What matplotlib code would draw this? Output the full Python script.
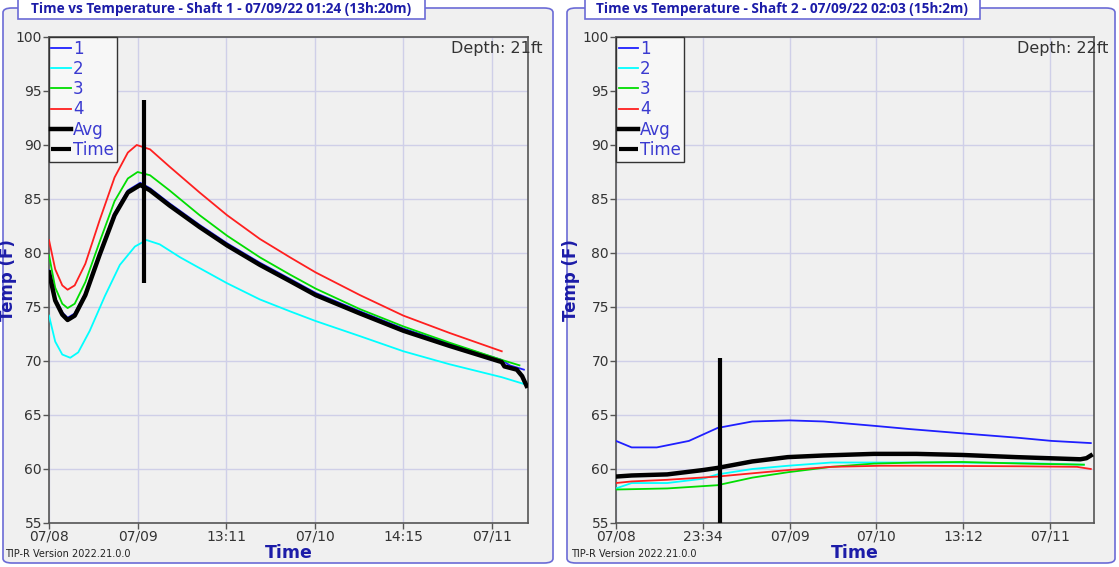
import matplotlib
matplotlib.use("Agg")
import matplotlib.pyplot as plt
from matplotlib.patches import FancyBboxPatch, Rectangle

plt.rcParams['font.family'] = ['DejaVu Sans']

# ---------------- data (x in tick-spacing units from first tick) ----------------
titles = ["Time vs Temperature - Shaft 1 - 07/09/22 01:24 (13h:20m)",
          "Time vs Temperature - Shaft 2 - 07/09/22 02:03 (15h:2m)"]
depths = ["Depth: 21ft", "Depth: 22ft"]
xticklabels_1 = ['07/08', '07/09', '13:11', '07/10', '14:15', '07/11']
xticklabels_2 = ['07/08', '23:34', '07/09', '07/10', '13:12', '07/11']
yticks = [55, 60, 65, 70, 75, 80, 85, 90, 95, 100]

# Shaft 1
s1_avg_x = [0, 0.07, 0.15, 0.21, 0.29, 0.41, 0.57, 0.74, 0.89, 1.03, 1.14, 1.36, 1.70, 2.01, 2.38, 2.72, 3.01, 3.51, 4.0, 4.52, 5.11, 5.14, 5.28, 5.34, 5.39]
s1_avg_y = [78.2, 75.6, 74.3, 73.8, 74.2, 76.1, 79.8, 83.5, 85.6, 86.3, 85.8, 84.4, 82.4, 80.7, 78.9, 77.4, 76.1, 74.4, 72.8, 71.4, 69.9, 69.5, 69.2, 68.6, 67.7]
s1_b_x = [0, 0.07, 0.15, 0.21, 0.29, 0.41, 0.57, 0.74, 0.89, 1.03, 1.14, 1.36, 1.70, 2.01, 2.38, 2.72, 3.01, 3.51, 4.0, 4.52, 5.11, 5.20, 5.36]
s1_b_y = [78.4, 75.8, 74.5, 74.0, 74.4, 76.3, 80.0, 83.7, 85.8, 86.5, 86.0, 84.6, 82.6, 80.9, 79.1, 77.6, 76.3, 74.6, 73.0, 71.6, 70.1, 69.6, 69.2]
s1_c_x = [0, 0.07, 0.15, 0.24, 0.33, 0.46, 0.63, 0.80, 0.97, 1.10, 1.25, 1.48, 1.70, 2.01, 2.38, 2.72, 3.01, 3.51, 4.0, 4.52, 5.11, 5.39]
s1_c_y = [74.2, 71.8, 70.6, 70.3, 70.8, 72.8, 76.0, 78.9, 80.6, 81.2, 80.8, 79.6, 78.6, 77.2, 75.7, 74.6, 73.7, 72.3, 70.9, 69.7, 68.5, 67.8]
s1_g_x = [0, 0.07, 0.15, 0.21, 0.29, 0.41, 0.57, 0.74, 0.89, 1.0, 1.14, 1.36, 1.70, 2.01, 2.38, 2.72, 3.01, 3.51, 4.0, 4.52, 5.11, 5.31]
s1_g_y = [79.8, 76.8, 75.3, 74.9, 75.3, 77.3, 81.0, 84.8, 86.9, 87.5, 87.2, 85.8, 83.5, 81.6, 79.6, 78.0, 76.7, 74.8, 73.2, 71.7, 70.1, 69.6]
s1_r_x = [0, 0.07, 0.15, 0.21, 0.29, 0.41, 0.57, 0.74, 0.89, 0.99, 1.14, 1.36, 1.70, 2.01, 2.38, 2.72, 3.01, 3.51, 4.0, 4.52, 5.11]
s1_r_y = [81.2, 78.5, 77.0, 76.6, 77.0, 79.0, 83.0, 87.0, 89.3, 90.0, 89.6, 88.0, 85.6, 83.5, 81.3, 79.6, 78.2, 76.1, 74.2, 72.6, 70.9]
s1_time_x = 1.07
s1_time_y = [77.2, 94.2]

# Shaft 2
s2_b_x = [0, 0.18, 0.47, 0.84, 1.17, 1.57, 2.0, 2.39, 2.97, 3.38, 3.99, 4.62, 5.02, 5.47]
s2_b_y = [62.6, 62.0, 62.0, 62.6, 63.8, 64.4, 64.5, 64.4, 64.0, 63.7, 63.3, 62.9, 62.6, 62.4]
s2_avg_x = [0, 0.18, 0.59, 1.0, 1.17, 1.57, 1.98, 2.39, 2.97, 3.46, 3.99, 4.61, 5.35, 5.42, 5.47]
s2_avg_y = [59.3, 59.4, 59.5, 59.9, 60.1, 60.7, 61.1, 61.25, 61.4, 61.4, 61.3, 61.1, 60.9, 61.0, 61.25]
s2_c_x = [0, 0.18, 0.59, 1.0, 1.17, 1.57, 1.98, 2.48, 3.05, 3.87, 4.69, 5.39]
s2_c_y = [58.2, 58.7, 58.7, 59.1, 59.5, 60.0, 60.3, 60.6, 60.6, 60.6, 60.55, 60.4]
s2_g_x = [0, 0.59, 1.17, 1.57, 1.98, 2.48, 2.97, 3.46, 3.99, 4.69, 5.39]
s2_g_y = [58.1, 58.2, 58.5, 59.2, 59.7, 60.2, 60.5, 60.6, 60.65, 60.5, 60.4]
s2_r_x = [0, 0.18, 0.59, 1.17, 1.57, 1.98, 2.48, 3.05, 3.46, 4.69, 5.31, 5.47]
s2_r_y = [58.7, 58.85, 59.0, 59.3, 59.6, 59.9, 60.2, 60.3, 60.3, 60.25, 60.2, 60.0]
s2_time_x = 1.20
s2_time_y = [55, 70.3]

# ---------------- style ----------------
W, H = 1119, 567
BG = '#f0f0f0'
FRAME = '#6b6bd6'
BLUE_TXT = '#1c1ca8'
LEG_TXT = '#3a3ad0'
GRID = '#cfcfe8'
TICK = '#333333'
colors = {'1': '#1f1fff', '2': '#00ffff', '3': '#00dd00', '4': '#ff1f1f'}

fig = plt.figure(figsize=(W / 100, H / 100), dpi=100)
fig.patch.set_facecolor('white')


def fx(px):
    return px / W


def fy(py):
    return 1 - py / H


def panel(x0, x1, title_x0, title_x1):
    frame = FancyBboxPatch((fx(x0), fy(563)), fx(x1 - x0), (563 - 8) / H,
                           boxstyle="round,pad=0,rounding_size=0.008",
                           transform=fig.transFigure, facecolor=BG,
                           edgecolor=FRAME, linewidth=1.2, zorder=-5)
    fig.patches.append(frame)
    tb = Rectangle((fx(title_x0), fy(19)), fx(title_x1 - title_x0), 22 / H,
                   transform=fig.transFigure, facecolor='white',
                   edgecolor=FRAME, linewidth=1.2, zorder=-4)
    fig.patches.append(tb)


panel(3, 553, 18, 425)
panel(567, 1115, 585, 980)

TFONT = ['Open Sans', 'DejaVu Sans']
fig.text(fx(221), fy(9), titles[0], ha='center', va='center', fontsize=9.8,
         fontweight='bold', color=BLUE_TXT, family=TFONT)
fig.text(fx(782), fy(9), titles[1], ha='center', va='center', fontsize=9.8,
         fontweight='bold', color=BLUE_TXT, family=TFONT)


def make_axes(ax_x0, ax_x1, spacing, labels):
    ax = fig.add_axes([fx(ax_x0), fy(523), fx(ax_x1 - ax_x0), (523 - 37) / H])
    ax.set_facecolor(BG)
    ax.set_xlim(0, (ax_x1 - ax_x0) / spacing)
    ax.set_ylim(55, 100)
    ax.set_xticks(range(len(labels)))
    ax.set_xticklabels(labels)
    ax.set_yticks(yticks)
    ax.tick_params(direction='out', length=4, width=1, colors='#555555',
                   labelcolor=TICK, labelsize=10, pad=1)
    ax.grid(True, color=GRID, linewidth=1)
    ax.set_axisbelow(True)
    for s in ax.spines.values():
        s.set_color('#555555')
        s.set_linewidth(1.2)
    return ax


ax1 = make_axes(49, 528, 88.6, xticklabels_1)
ax2 = make_axes(616, 1094, 86.8, xticklabels_2)

series_avg = {ax1: (s1_avg_x, s1_avg_y), ax2: (s2_avg_x, s2_avg_y)}


def draw(ax, series, tx, ty, depth, ylab_x):
    h = []
    for (x, y, lab) in series:
        l, = ax.plot(x, y, color=colors[lab], linewidth=1.3, label=lab, zorder=3)
        h.append(l)
    avg_x, avg_y = series_avg[ax]
    la, = ax.plot(avg_x, avg_y, color='black', linewidth=3.2, label='Avg', zorder=4)
    lt, = ax.plot([tx, tx], ty, color='black', linewidth=3.0, label='Time', zorder=5,
                  solid_capstyle='butt')
    leg = ax.legend(handles=h + [la, lt], loc='upper left', borderaxespad=0,
                    fancybox=False, edgecolor='#333333', facecolor='#f7f7f7',
                    framealpha=1, fontsize=12, handlelength=1.15,
                    handletextpad=0.15, labelspacing=0.14, borderpad=0.15)
    leg.get_frame().set_linewidth(1.0)
    for t in leg.get_texts():
        t.set_color(LEG_TXT)
    ax.text(1.03, 0.992, depth, transform=ax.transAxes, ha='right', va='top',
            fontsize=11.5, color='#333333', zorder=6)
    ax.set_ylabel('Temp (F)', fontsize=12, fontweight='bold', color=BLUE_TXT)
    ax.yaxis.set_label_coords(ylab_x, 0.5)
    ax.set_xlabel('Time', fontsize=12.5, fontweight='bold', color=BLUE_TXT,
                  labelpad=0)


draw(ax1, [(s1_b_x, s1_b_y, '1'), (s1_c_x, s1_c_y, '2'), (s1_g_x, s1_g_y, '3'),
           (s1_r_x, s1_r_y, '4')], s1_time_x, s1_time_y, depths[0], -0.067)
draw(ax2, [(s2_b_x, s2_b_y, '1'), (s2_c_x, s2_c_y, '2'), (s2_g_x, s2_g_y, '3'),
           (s2_r_x, s2_r_y, '4')], s2_time_x, s2_time_y, depths[1], -0.075)

fig.text(fx(5), fy(554), 'TIP-R Version 2022.21.0.0', ha='left', va='center',
         fontsize=7, color='#222222')
fig.text(fx(571), fy(554), 'TIP-R Version 2022.21.0.0', ha='left', va='center',
         fontsize=7, color='#222222')

fig.savefig('out.png', dpi=100, facecolor='white')
